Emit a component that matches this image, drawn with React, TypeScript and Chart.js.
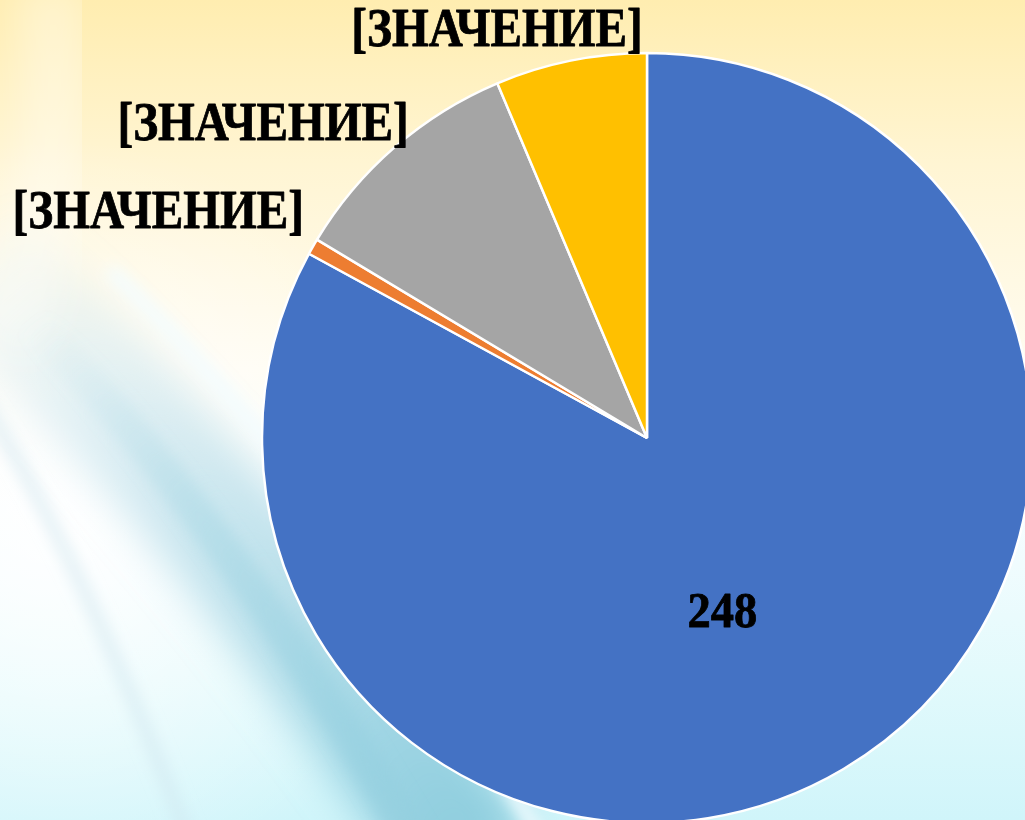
import React, { useEffect, useRef } from "react";
import { Chart, registerables } from "chart.js";

Chart.register(...registerables);

// ---- data ----
const categories = ["Кв. 1", "Кв. 2", "Кв. 3", "Кв. 4"];
const values = [248, 2, 30, 19];
const valueLabels = ["248", "[ЗНАЧЕНИЕ]", "[ЗНАЧЕНИЕ]", "[ЗНАЧЕНИЕ]"];
const sliceColors = ["#4472C4", "#ED7D31", "#A5A5A5", "#FFC000"];

const labelPlugin = {
  id: "valueLabels",
  afterDatasetsDraw(chart: any) {
    const ctx = chart.ctx as CanvasRenderingContext2D;
    const meta = chart.getDatasetMeta(0);
    // per-slice placement: [inside?, dx, dy] relative to anchor
    const place: Array<[boolean, number, number]> = [
      [true, -23, 11],
      [false, -9, -33],
      [false, 14, -21],
      [false, 72, -29],
    ];
    meta.data.forEach((arc: any, i: number) => {
      const p = arc.getProps(["x", "y", "startAngle", "endAngle", "outerRadius"], true);
      const mid = (p.startAngle + p.endAngle) / 2;
      const [inside, dx, dy] = place[i];
      const r = inside ? p.outerRadius * 0.5 : p.outerRadius;
      const ax = p.x + Math.cos(mid) * r + dx;
      const ay = p.y + Math.sin(mid) * r + dy;
      ctx.save();
      ctx.fillStyle = "#000000";
      ctx.strokeStyle = "#000000";
      ctx.lineWidth = 0.8;
      ctx.lineJoin = "round";
      ctx.font = inside
        ? "bold 50px 'Liberation Serif', 'Times New Roman', serif"
        : "bold 54px 'Liberation Serif', 'Times New Roman', serif";
      ctx.textBaseline = "middle";
      ctx.translate(ax, ay);
      ctx.scale(inside ? 0.93 : 0.875, 1);
      ctx.textAlign = inside ? "center" : "right";
      ctx.fillText(valueLabels[i], 0, 0);
      ctx.strokeText(valueLabels[i], 0, 0);
      ctx.restore();
    });
  },
};

function Background() {
  return (
    <svg
      width={1025}
      height={820}
      style={{ position: "absolute", left: 0, top: 0 }}
      xmlns="http://www.w3.org/2000/svg"
    >
      <defs>
        <linearGradient id="base" x1="0" y1="0" x2="0" y2="1">
          <stop offset="0" stopColor="#FFEDB0" />
          <stop offset="0.2" stopColor="#FFF5D3" />
          <stop offset="0.45" stopColor="#FFFCF1" />
          <stop offset="0.62" stopColor="#F7FDFF" />
          <stop offset="0.82" stopColor="#E3FAFC" />
          <stop offset="1" stopColor="#D0F5FA" />
        </linearGradient>
        <radialGradient id="whiteLeft" cx="60" cy="520" r="380" gradientUnits="userSpaceOnUse">
          <stop offset="0" stopColor="#FFFFFF" stopOpacity="0.95" />
          <stop offset="1" stopColor="#FFFFFF" stopOpacity="0" />
        </radialGradient>
        <linearGradient id="swoosh" x1="0" y1="280" x2="450" y2="830" gradientUnits="userSpaceOnUse">
          <stop offset="0" stopColor="#B9DCE8" stopOpacity="0.15" />
          <stop offset="0.45" stopColor="#A8D6E4" stopOpacity="0.6" />
          <stop offset="1" stopColor="#8CCCDD" stopOpacity="0.95" />
        </linearGradient>
        <linearGradient id="core" x1="30" y1="320" x2="430" y2="870" gradientUnits="userSpaceOnUse">
          <stop offset="0" stopColor="#94CFDF" stopOpacity="0" />
          <stop offset="0.35" stopColor="#94CFDF" stopOpacity="0.3" />
          <stop offset="1" stopColor="#94CFDF" stopOpacity="0.6" />
        </linearGradient>
        <filter id="blur20" x="-50%" y="-50%" width="200%" height="200%">
          <feGaussianBlur stdDeviation="20" />
        </filter>
        <filter id="blur8" x="-50%" y="-50%" width="200%" height="200%">
          <feGaussianBlur stdDeviation="7" />
        </filter>
      </defs>
      <rect x="0" y="0" width="1025" height="820" fill="url(#base)" />
      <rect x="0" y="0" width="1025" height="820" fill="url(#whiteLeft)" />
      {/* main cyan swoosh */}
      <path
        d="M -20 270 Q 210 480 480 870"
        stroke="url(#swoosh)"
        strokeWidth="130"
        fill="none"
        filter="url(#blur20)"
      />
      {/* darker core streak */}
      <path
        d="M 30 320 Q 230 520 430 870"
        stroke="url(#core)"
        strokeWidth="34"
        fill="none"
        filter="url(#blur8)"
      />
      {/* light streak right of swoosh, near the pie */}
      <path
        d="M 110 270 Q 330 480 560 870"
        stroke="#F2FCFF"
        strokeOpacity="0.8"
        strokeWidth="16"
        fill="none"
        filter="url(#blur8)"
      />
      {/* faint streaks on left */}
      <path
        d="M -30 380 Q 90 570 200 870"
        stroke="#CFE5EE"
        strokeOpacity="0.45"
        strokeWidth="16"
        fill="none"
        filter="url(#blur8)"
      />
      {/* soft white swoosh top-left */}
      <path
        d="M 50 -20 Q 70 200 0 340"
        stroke="#FFFFFF"
        strokeOpacity="0.35"
        strokeWidth="70"
        fill="none"
        filter="url(#blur20)"
      />
    </svg>
  );
}

export default function App() {
  const canvasRef = useRef<HTMLCanvasElement | null>(null);

  useEffect(() => {
    document.body.style.margin = "0";
    const canvas = canvasRef.current;
    if (!canvas) return;
    const chart = new Chart(canvas, {
      type: "pie",
      data: {
        labels: categories,
        datasets: [
          {
            data: values,
            backgroundColor: sliceColors,
            borderColor: "#FFFFFF",
            borderWidth: 2.5,
            radius: 385,
          } as any,
        ],
      },
      options: {
        responsive: false,
        maintainAspectRatio: false,
        animation: false,
        layout: { padding: { left: 269, top: 56, right: 0, bottom: 0 } },
        plugins: {
          legend: { display: false },
          tooltip: { enabled: false },
          title: { display: false },
        },
      },
      plugins: [labelPlugin],
    });
    return () => chart.destroy();
  }, []);

  return (
    <div
      style={{
        position: "fixed",
        left: 0,
        top: 0,
        width: 1025,
        height: 820,
        overflow: "hidden",
        background: "#FFFCF1",
      }}
    >
      <Background />
      <canvas
        ref={canvasRef}
        width={1025}
        height={820}
        style={{ position: "absolute", left: 0, top: 0, width: 1025, height: 820 }}
      />
    </div>
  );
}
